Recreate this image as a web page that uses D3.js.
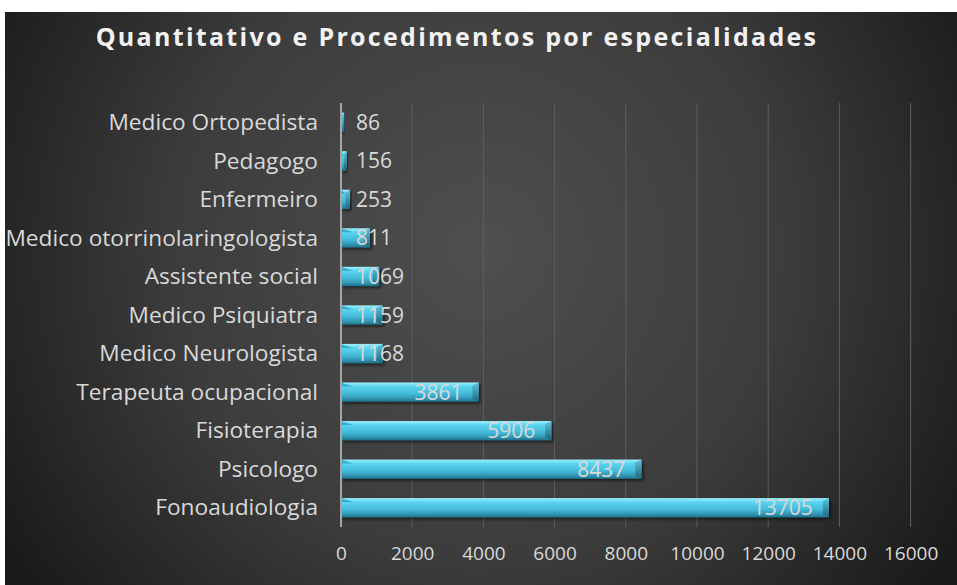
<!DOCTYPE html>
<html lang="pt">
<head>
  <meta charset="UTF-8">
  <title>Quantitativo e Procedimentos por especialidades</title>
  <script src="https://d3js.org/d3.v7.min.js"></script>
  <style>
    body { margin: 0; background: #fff; }
    text { font-family: "Open Sans", "Noto Sans", sans-serif; }
  </style>
</head>
<body>
  <div id="root"></div>
  <script>
    // dados (de cima para baixo)
    const categories = [
      'Medico Ortopedista', 'Pedagogo', 'Enfermeiro', 'Medico otorrinolaringologista',
      'Assistente social', 'Medico Psiquiatra', 'Medico Neurologista',
      'Terapeuta ocupacional ', 'Fisioterapia', 'Psicologo', 'Fonoaudiologia'
    ]
    const values = [86, 156, 253, 811, 1069, 1159, 1168, 3861, 5906, 8437, 13705]
    const ticks = [0, 2000, 4000, 6000, 8000, 10000, 12000, 14000, 16000]

    const W = 957, H = 585
    const svg = d3.select('#root')
      .append('svg')
      .attr('width', W)
      .attr('height', H)

    const defs = svg.append('defs')
    const bg = defs.append('radialGradient')
      .attr('id', 'bg')
      .attr('gradientUnits', 'userSpaceOnUse')
      .attr('cx', 480).attr('cy', 250).attr('r', 560)
    bg.append('stop').attr('offset', '0%').attr('stop-color', '#4f4f4f')
    bg.append('stop').attr('offset', '55%').attr('stop-color', '#3c3c3c')
    bg.append('stop').attr('offset', '100%').attr('stop-color', '#1a1a1a')

    const barGrad = defs.append('linearGradient')
      .attr('id', 'bar').attr('x1', 0).attr('y1', 0).attr('x2', 0).attr('y2', 1)
    barGrad.append('stop').attr('offset', '0%').attr('stop-color', '#9ceefd')
    barGrad.append('stop').attr('offset', '22%').attr('stop-color', '#5ad4f0')
    barGrad.append('stop').attr('offset', '60%').attr('stop-color', '#43b9d8')
    barGrad.append('stop').attr('offset', '85%').attr('stop-color', '#2f93b0')
    barGrad.append('stop').attr('offset', '100%').attr('stop-color', '#1f6f87')

    const endGrad = defs.append('linearGradient')
      .attr('id', 'barEnd').attr('x1', 0).attr('y1', 0).attr('x2', 0).attr('y2', 1)
    endGrad.append('stop').attr('offset', '0%').attr('stop-color', '#5fc6df')
    endGrad.append('stop').attr('offset', '100%').attr('stop-color', '#1d6478')

    const shadow = defs.append('filter').attr('id', 'shadow')
      .attr('x', '-10%').attr('y', '-30%').attr('width', '130%').attr('height', '180%')
    shadow.append('feDropShadow')
      .attr('dx', 2).attr('dy', 2).attr('stdDeviation', 1.5)
      .attr('flood-color', '#000').attr('flood-opacity', 0.55)

    svg.append('rect')
      .attr('x', 5).attr('y', 12)
      .attr('width', W - 5).attr('height', H - 12)
      .attr('fill', 'url(#bg)')

    const margin = { left: 341, top: 103, bottom: 527 }
    const x = d3.scaleLinear().domain([0, 16000]).range([margin.left, margin.left + 569.6])
    const y = d3.scaleBand().domain(categories).range([margin.top, margin.bottom]).paddingInner(0.5).paddingOuter(0.25)

    // grade
    svg.append('g')
      .selectAll('line')
      .data(ticks.slice(1))
      .join('line')
      .attr('x1', d => x(d)).attr('x2', d => x(d))
      .attr('y1', margin.top).attr('y2', margin.bottom)
      .attr('stroke', '#5e5e5e')
      .attr('stroke-width', 1)

    // eixo x
    const xAxis = svg.append('g')
      .attr('transform', `translate(0,${margin.bottom})`)
      .call(d3.axisBottom(x).tickValues(ticks).tickSize(0).tickPadding(20).tickFormat(d3.format('d')))
    xAxis.select('.domain').remove()
    xAxis.selectAll('text')
      .attr('fill', '#d9d9d9')
      .style('font-size', '19px')

    // eixo y
    const yAxis = svg.append('g')
      .attr('transform', `translate(${margin.left},0)`)
      .call(d3.axisLeft(y).tickSize(0).tickPadding(23))
    yAxis.select('.domain').remove()
    yAxis.selectAll('text')
      .attr('fill', '#d9d9d9')
      .style('font-size', '22.7px')
      .attr('dy', '0.34em')

    // barras
    const bars = svg.append('g')
      .selectAll('g')
      .data(categories)
      .join('g')
      .attr('filter', 'url(#shadow)')

    bars.append('rect')
      .attr('x', x(0))
      .attr('y', d => y(d))
      .attr('width', (d, i) => x(values[i]) - x(0))
      .attr('height', y.bandwidth())
      .attr('fill', 'url(#bar)')

    // bisel na ponta
    bars.append('path')
      .attr('d', (d, i) => {
        const x1 = x(values[i]), y0 = y(d), h = y.bandwidth()
        const b = Math.min(6, (x1 - x(0)) / 2)
        return `M${x1 - b},${y0 + 3}L${x1},${y0}L${x1},${y0 + h}L${x1 - b},${y0 + h - 3}Z`
      })
      .attr('fill', 'url(#barEnd)')

    // bisel na esquerda
    bars.append('path')
      .attr('d', (d, i) => {
        const x0 = x(0), y0 = y(d)
        const b = Math.min(12, (x(values[i]) - x0) / 2)
        return `M${x0},${y0}L${x0 + b},${y0 + 4}L${x0},${y0 + 4}Z`
      })
      .attr('fill', '#2a9fbd')
      .attr('opacity', 0.8)

    // eixo vertical
    svg.append('line')
      .attr('x1', x(0)).attr('x2', x(0))
      .attr('y1', margin.top).attr('y2', margin.bottom)
      .attr('stroke', '#a6a6a6')
      .attr('stroke-width', 2)

    // rotulos de valor
    svg.append('g')
      .selectAll('text')
      .data(categories)
      .join('text')
      .each(function (d, i) {
        const end = x(values[i]) - 16
        const t = d3.select(this)
        t.text(values[i])
          .attr('y', y(d) + y.bandwidth() / 2)
          .attr('dy', '0.36em')
          .attr('fill', '#d9d9d9')
          .style('font-size', '21px')
        const w = this.getComputedTextLength()
        t.attr('x', Math.max(end - w, x(0) + 15))
      })

    svg.append('text')
      .attr('x', 457)
      .attr('y', 46)
      .attr('text-anchor', 'middle')
      .attr('fill', '#f2f2f2')
      .style('font-size', '25px')
      .style('font-weight', 'bold')
      .style('letter-spacing', '2.3px')
      .text('Quantitativo e Procedimentos por especialidades')
  </script>
</body>
</html>
